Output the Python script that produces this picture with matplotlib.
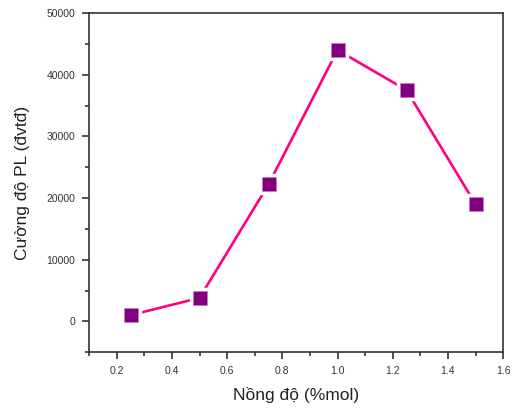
import matplotlib.pyplot as plt
from matplotlib.ticker import MultipleLocator

plt.rcParams['font.family'] = ['Liberation Sans', 'DejaVu Sans']

# Data
concentration = [0.25, 0.5, 0.75, 1.0, 1.25, 1.5]
intensity = [1000, 3800, 22200, 44000, 37500, 19000]

fig = plt.figure(figsize=(5.15, 4.09), dpi=100)
ax = fig.add_axes([0.173, 0.139, 0.804, 0.829])

# Line, then white pads to leave gaps, then the markers
ax.plot(concentration, intensity, color='#ff0080', linewidth=1.9, zorder=2)
ax.plot(concentration, intensity, linestyle='none', marker='s', markersize=14,
        color='white', zorder=3)
ax.plot(concentration, intensity, linestyle='none', marker='s', markersize=9.5,
        markerfacecolor='#800080', markeredgecolor='#c080c0',
        markeredgewidth=0.6, zorder=4)

ax.set_xlim(0.1, 1.6)
ax.set_ylim(-5000, 50000)
ax.xaxis.set_major_locator(MultipleLocator(0.2))
ax.xaxis.set_minor_locator(MultipleLocator(0.1))
ax.yaxis.set_major_locator(MultipleLocator(10000))
ax.yaxis.set_minor_locator(MultipleLocator(5000))
ax.xaxis.set_major_formatter(plt.FuncFormatter(lambda v, p: f'{v:.1f}'))

ax.tick_params(which='both', direction='out', top=False, right=False,
               labelsize=7.5, colors='#333333', width=1.2, pad=5)
ax.tick_params(which='major', length=5)
ax.tick_params(which='minor', length=3)
for s in ax.spines.values():
    s.set_linewidth(1.2)
    s.set_color('#333333')

ax.set_xlabel('Nồng độ (%mol)', fontsize=12.5, color='#222222', labelpad=8)
ax.set_ylabel('Cường độ PL (đvtđ)', fontsize=12.5, color='#222222', labelpad=12)

fig.savefig('out.png', dpi=100)
